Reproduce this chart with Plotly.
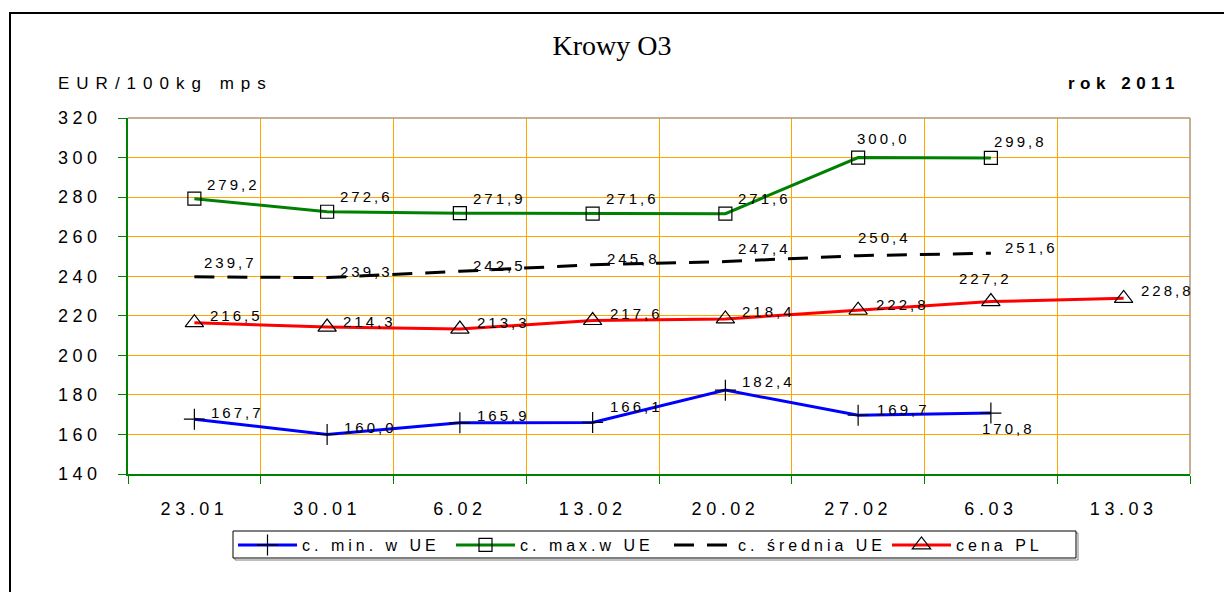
import plotly.graph_objects as go

# ---- data ----
categories = ["23.01", "30.01", "6.02", "13.02", "20.02", "27.02", "6.03", "13.03"]
c_min = [167.7, 160.0, 165.9, 166.1, 182.4, 169.7, 170.8, None]
c_max = [279.2, 272.6, 271.9, 271.6, 271.6, 300.0, 299.8, None]
c_avg = [239.7, 239.3, 242.5, 245.8, 247.4, 250.4, 251.6, None]
cena_pl = [216.5, 214.3, 213.3, 217.6, 218.4, 222.8, 227.2, 228.8]

series_names = ["c. min. w UE", "c. max.w UE", "c. średnia UE", "cena PL"]
y_ticks = [140, 160, 180, 200, 220, 240, 260, 280, 300, 320]

# ---- label offsets in px (style): (dx to left edge, dy up) ----
off_min = [(16, 7), (16, 7), (16, 7), (16, 16), (16, 9), (18, 6), (-10, -15), (0, 0)]
off_max = [(12, 14), (12, 15), (12, 15), (12, 15), (12, 15), (-2, 19), (2, 16), (0, 0)]
off_avg = [(9, 14), (12, 6), (12, 6), (13, 6), (12, 13), (-1, 18), (13, 6), (0, 0)]
off_pl = [(15, 7), (15, 6), (16, 7), (16, 7), (16, 7), (17, 6), (-33, 23), (16, 8)]


def fmt(v):
    return f"{v:.1f}".replace(".", ",")


FONT = "Liberation Sans, Arial, sans-serif"
W, H = 1224, 592
L, R, T, B = 128, 34, 118, 118
PW, PH = W - L - R, H - T - B


def px_x(x):
    return (x - L) / PW


def px_y(y):
    return (H - B - y) / PH


fig = go.Figure()

fig.add_trace(go.Scatter(
    x=categories, y=c_min, name=series_names[0], mode="lines+markers",
    line=dict(color="#0000FF", width=3),
    marker=dict(symbol="cross-thin", size=15, color="black",
                line=dict(color="black", width=1.2)),
))
fig.add_trace(go.Scatter(
    x=categories, y=c_max, name=series_names[1], mode="lines+markers",
    line=dict(color="#008000", width=3),
    marker=dict(symbol="square-open", size=13, color="black",
                line=dict(color="black", width=1.2)),
))
fig.add_trace(go.Scatter(
    x=categories, y=c_avg, name=series_names[2], mode="lines",
    line=dict(color="black", width=3, dash="20px,13px"),
))
fig.add_trace(go.Scatter(
    x=categories, y=cena_pl, name=series_names[3], mode="lines+markers",
    line=dict(color="#FF0000", width=3),
    marker=dict(symbol="triangle-up-open", size=16, color="black",
                line=dict(color="black", width=1.2)),
))

GRID = "#FFA500"
AXIS = "#008000"
TAN = "#B09670"

annotations = [
    dict(text="EUR/100kg mps", xref="paper", yref="paper", x=px_x(56), y=px_y(83),
         xanchor="left", yanchor="middle", align="left", showarrow=False,
         font=dict(family=FONT, size=17, color="black")),
    dict(text="<b>rok 2011</b>", xref="paper", yref="paper", x=px_x(1182), y=px_y(83),
         xanchor="right", yanchor="middle", align="right", showarrow=False,
         font=dict(family=FONT, size=17, color="black")),
]
for vals, offs in ((c_min, off_min), (c_max, off_max), (c_avg, off_avg), (cena_pl, off_pl)):
    for idx, (v, (dx, dy)) in enumerate(zip(vals, offs)):
        if v is None:
            continue
        # category axis: position by category index
        annotations.append(dict(
            x=idx, y=v, xref="x", yref="y", text=fmt(v), showarrow=False,
            xanchor="left", yanchor="middle", align="left",
            xshift=dx, yshift=dy, borderpad=0,
            font=dict(family=FONT, size=15, color="black"),
        ))

fig.update_layout(
    width=W, height=H,
    margin=dict(l=L, r=R, t=T, b=B, pad=0),
    paper_bgcolor="white", plot_bgcolor="white",
    font=dict(family=FONT, color="black"),
    title=dict(text="Krowy O3", x=0.5, xref="container", xanchor="center",
               y=1 - 45 / H, yref="container", yanchor="middle",
               font=dict(family="Liberation Serif, Times New Roman, serif", size=28, color="black")),
    xaxis=dict(
        type="category", categoryorder="array", categoryarray=categories,
        range=[-0.5, len(categories) - 0.5], tickson="boundaries",
        showgrid=True, gridcolor=GRID, gridwidth=1,
        showline=True, linecolor=AXIS, linewidth=1.5,
        ticks="outside", ticklen=8, tickcolor=AXIS, tickwidth=1,
        tickfont=dict(family=FONT, size=18, color="black"),
        ticklabelstandoff=18, zeroline=False, fixedrange=True,
    ),
    yaxis=dict(
        range=[140, 320], tickvals=y_ticks,
        showgrid=True, gridcolor=GRID, gridwidth=1,
        showline=True, linecolor=AXIS, linewidth=1.5,
        ticks="outside", ticklen=8, tickcolor=AXIS, tickwidth=1,
        tickfont=dict(family=FONT, size=18, color="black"),
        ticklabelstandoff=13, zeroline=False, fixedrange=True,
    ),
    showlegend=True,
    legend=dict(
        orientation="h", x=px_x(233), xanchor="left", y=px_y(528), yanchor="top",
        borderwidth=0, bgcolor="rgba(0,0,0,0)",
        font=dict(family=FONT, size=16, color="black"),
        itemwidth=59, entrywidth=144, entrywidthmode="pixels",
        traceorder="normal", tracegroupgap=0,
    ),
    shapes=[
        dict(type="rect", xref="paper", yref="paper",
             x0=px_x(10), x1=px_x(W + 10), y0=px_y(H + 10), y1=px_y(13),
             line=dict(color="black", width=2), fillcolor="rgba(0,0,0,0)", layer="below"),
        dict(type="line", xref="paper", yref="paper", x0=0, x1=1, y0=1, y1=1,
             line=dict(color=TAN, width=1.5)),
        dict(type="line", xref="paper", yref="paper", x0=1, x1=1, y0=0, y1=1,
             line=dict(color=TAN, width=1.5)),
        # legend frame with light shadow
        dict(type="rect", xref="paper", yref="paper",
             x0=px_x(235), x1=px_x(1078), y0=px_y(560), y1=px_y(533),
             line=dict(color="#808080", width=1), fillcolor="rgba(0,0,0,0)", layer="below"),
        dict(type="rect", xref="paper", yref="paper",
             x0=px_x(233), x1=px_x(1076), y0=px_y(558), y1=px_y(531),
             line=dict(color="black", width=1), fillcolor="white", layer="below"),
    ],
    annotations=annotations,
)

post = """
var st = document.createElement('style');
st.textContent = [
  '.xtick text, .ytick text { letter-spacing: 4.5px; }',
  'text.legendtext { letter-spacing: 4px; }',
  'text.annotation-text { letter-spacing: 3px; }',
  'g.annotation[data-index="0"] text.annotation-text { letter-spacing: 7px; }',
  'g.annotation[data-index="1"] text.annotation-text { letter-spacing: 5.5px; }',
  'text.gtitle { letter-spacing: 0; }',
  'body { margin: 0; }'
].join('\\n');
document.head.appendChild(st);
"""

fig.write_html("out.html", post_script=post, config={"displayModeBar": False})
